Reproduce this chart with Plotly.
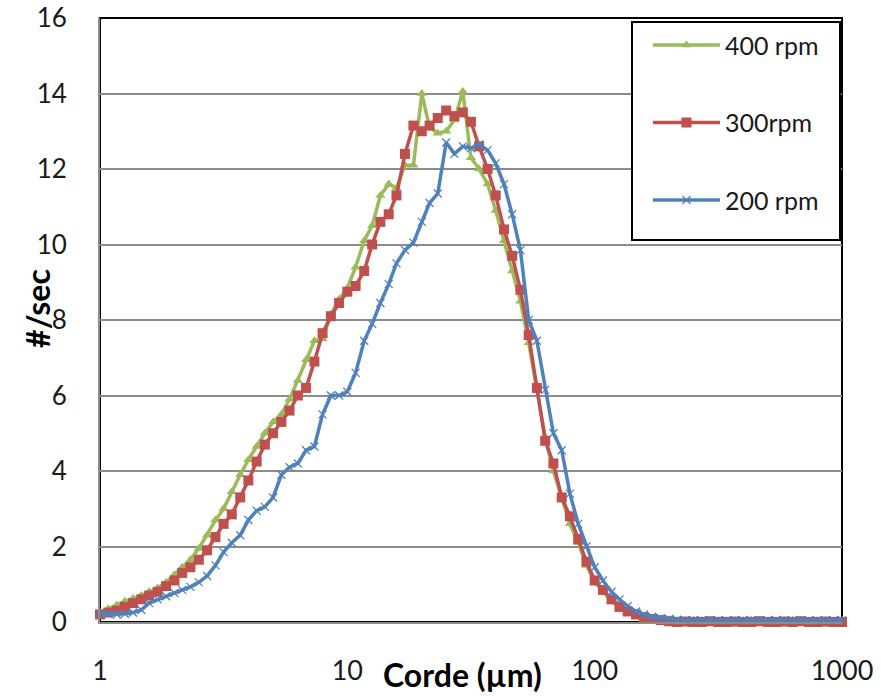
import plotly.graph_objects as go

# chord length channels (µm), log spaced
corde = [1.00, 1.08, 1.17, 1.26, 1.36, 1.47, 1.58, 1.71, 1.85, 2.00,
         2.15, 2.32, 2.51, 2.71, 2.93, 3.16, 3.41, 3.69, 3.98, 4.30,
         4.64, 5.01, 5.41, 5.84, 6.31, 6.81, 7.36, 7.94, 8.58, 9.26,
         10.0, 10.8, 11.7, 12.6, 13.6, 14.7, 15.8, 17.1, 18.5, 20.0,
         21.5, 23.2, 25.1, 27.1, 29.3, 31.6, 34.1, 36.9, 39.8, 43.0,
         46.4, 50.1, 54.1, 58.4, 63.1, 68.1, 73.6, 79.4, 85.8, 92.6,
         100, 108, 117, 126, 136, 147, 158, 171, 185, 200,
         215, 232, 251, 271, 293, 316, 341, 369, 398, 430,
         464, 501, 541, 584, 631, 681, 736, 794, 858, 926, 1000]

rpm400 = [0.25, 0.35, 0.45, 0.55, 0.62, 0.70, 0.80, 0.90, 1.05, 1.25,
          1.45, 1.65, 1.95, 2.30, 2.70, 3.00, 3.45, 3.90, 4.30, 4.65,
          5.00, 5.30, 5.50, 5.90, 6.40, 6.95, 7.45, 7.50, 8.15, 8.55,
          8.85, 9.40, 10.1, 10.5, 11.3, 11.6, 11.5, 12.1, 12.1, 14.0,
          13.1, 12.95, 13.0, 13.3, 14.05, 12.3, 12.0, 11.6, 10.9, 10.1,
          9.30, 8.50, 7.40, 6.20, 4.90, 4.00, 3.30, 2.60, 2.10, 1.50,
          1.05, 0.80, 0.55, 0.38, 0.27, 0.18, 0.12, 0.08, 0.06, 0.05,
          0.04, 0.04, 0.05, 0.04, 0.03, 0.04, 0.04, 0.03, 0.04, 0.05,
          0.04, 0.03, 0.04, 0.04, 0.05, 0.04, 0.03, 0.04, 0.04, 0.03, 0.04]

rpm300 = [0.20, 0.25, 0.30, 0.40, 0.50, 0.60, 0.70, 0.80, 0.95, 1.10,
          1.30, 1.45, 1.65, 1.90, 2.25, 2.60, 2.85, 3.30, 3.75, 4.25,
          4.70, 5.00, 5.30, 5.60, 6.00, 6.20, 6.90, 7.65, 8.10, 8.45,
          8.75, 8.90, 9.30, 10.0, 10.6, 10.8, 11.3, 12.4, 13.15, 13.0,
          13.15, 13.35, 13.55, 13.4, 13.5, 13.25, 12.6, 12.0, 11.3, 10.4,
          9.70, 8.80, 7.60, 6.20, 4.80, 4.20, 3.30, 2.80, 2.20, 1.60,
          1.10, 0.85, 0.60, 0.40, 0.28, 0.20, 0.13, 0.08, 0.05, 0.02,
          0.00, 0.01, 0.00, 0.00, 0.02, 0.00, 0.00, 0.01, 0.00, 0.00,
          0.02, 0.00, 0.00, 0.01, 0.00, 0.02, 0.00, 0.00, 0.01, 0.00, 0.00]

rpm200 = [0.22, 0.22, 0.20, 0.22, 0.25, 0.32, 0.50, 0.60, 0.68, 0.77,
          0.85, 0.93, 1.05, 1.22, 1.50, 1.85, 2.10, 2.30, 2.70, 2.95,
          3.05, 3.30, 3.90, 4.10, 4.20, 4.55, 4.65, 5.50, 6.00, 6.00,
          6.10, 6.60, 7.45, 7.90, 8.45, 8.95, 9.50, 9.85, 10.05, 10.6,
          11.1, 11.35, 12.7, 12.4, 12.6, 12.55, 12.65, 12.5, 12.15, 11.6,
          10.8, 9.85, 8.00, 7.45, 6.15, 5.00, 4.55, 3.40, 2.60, 2.00,
          1.45, 1.10, 0.80, 0.60, 0.42, 0.28, 0.20, 0.14, 0.10, 0.08,
          0.06, 0.05, 0.05, 0.05, 0.05, 0.05, 0.05, 0.05, 0.05, 0.05,
          0.05, 0.05, 0.05, 0.05, 0.05, 0.05, 0.05, 0.05, 0.05, 0.05, 0.05]

y_ticks = [0, 2, 4, 6, 8, 10, 12, 14, 16]
x_ticks = [1, 10, 100, 1000]

FONT = "Lato"
TXT = "#1a1a1a"

series = [
    ("400 rpm", rpm400, "#9BBB59", dict(symbol="triangle-up", size=9)),
    ("300rpm", rpm300, "#C0504D", dict(symbol="square", size=10)),
    ("200 rpm", rpm200, "#4F81BD", dict(symbol="x-thin-open", size=8,
                                        line=dict(width=1.3, color="#4F81BD"))),
]

fig = go.Figure()
for i, (nom, vals, col, mk) in enumerate(series):
    fig.add_trace(go.Scatter(
        x=corde, y=vals, name=nom, mode="lines+markers",
        line=dict(color=col, width=3.5),
        marker=dict(color=col, **mk),
        legendgroup=str(i), cliponaxis=False,
    ))

# plot area frame (black); grey axes are drawn over it
fig.add_shape(type="rect", xref="paper", yref="paper", x0=0, y0=0, x1=1, y1=1,
              line=dict(color="black", width=2), layer="below")
# legend box
fig.add_shape(type="rect", xref="paper", yref="paper",
              x0=0.717, y0=0.6325, x1=0.9973, y1=0.9934,
              line=dict(color="black", width=2), fillcolor="white", layer="above")

fig.update_layout(
    width=881, height=696,
    margin=dict(l=100, r=39, t=18, b=74, autoexpand=False),
    paper_bgcolor="white", plot_bgcolor="white",
    font=dict(family=FONT, size=27, color=TXT),
    showlegend=True,
    legend=dict(
        x=0.7385, y=0.993, xanchor="left", yanchor="top",
        borderwidth=0, bgcolor="rgba(0,0,0,0)",
        font=dict(family=FONT, size=25, color=TXT),
        itemwidth=67, tracegroupgap=42,
        traceorder="grouped",
    ),
    xaxis=dict(
        type="log", range=[0, 3], tickvals=x_ticks,
        ticktext=[str(v) for v in x_ticks],
        showgrid=False, showline=True, linecolor="#8c8c8c", linewidth=2,
        ticks="", ticklabelstandoff=24, zeroline=False, automargin=False,
        ticklabeloverflow="allow",
    ),
    yaxis=dict(
        range=[0, 16], tickvals=y_ticks, showgrid=True,
        gridcolor="#8c8c8c", gridwidth=2,
        showline=True, linecolor="#8c8c8c", linewidth=2,
        ticks="", ticklabelstandoff=26, zeroline=False, automargin=False,
        ticklabeloverflow="allow", tickfont=dict(size=26),
    ),
)

fig.add_annotation(text="<b>#/sec</b>", xref="paper", yref="paper",
                   x=-0.0836, y=0.52, textangle=-90,
                   xanchor="center", yanchor="middle", showarrow=False,
                   font=dict(family=FONT, size=32, color="black"))
fig.add_annotation(text="<b>Corde (µm)</b>", xref="paper", yref="paper",
                   x=0.488, y=-0.087, xanchor="center", yanchor="middle",
                   showarrow=False, font=dict(family=FONT, size=32, color="black"))

# drop the default 8px page margin so the figure sits at the window's corner
fig.write_html("out.html", config={"displayModeBar": False},
               post_script="document.body.style.margin='0px';")
